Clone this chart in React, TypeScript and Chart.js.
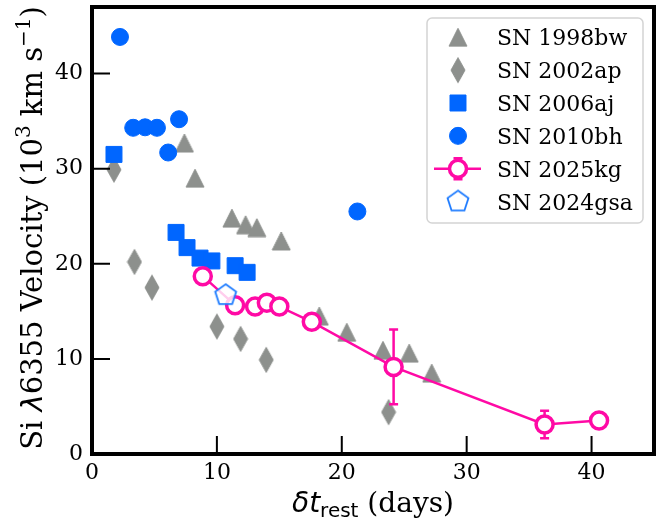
import React, { useEffect, useRef } from "react";
import { Chart, registerables } from "chart.js";
Chart.register(...registerables);

const SERIF = "'DejaVu Serif', serif";
const SANS = "'DejaVu Sans', sans-serif";

const GRAY = "#8d908d";
const BLUE = "#0066ff";
const MAGENTA = "#ff0aa5";
const PENT = "#1f7cff";

// ---- data ----
const sn1998bwX = [7.4, 8.25, 11.2, 12.3, 13.2, 15.15, 18.2, 20.4, 23.3, 25.4, 27.2];
const sn1998bwY = [32.7, 29.0, 24.8, 24.1, 23.8, 22.4, 14.5, 12.8, 10.9, 10.6, 8.5];

const sn2002apX = [1.76, 3.4, 4.8, 10.0, 11.9, 13.95, 23.75];
const sn2002apY = [29.9, 20.2, 17.5, 13.4, 12.1, 9.9, 4.4];

const sn2006ajX = [1.76, 6.73, 7.61, 8.65, 9.6, 11.46, 12.42];
const sn2006ajY = [31.5, 23.3, 21.7, 20.6, 20.3, 19.8, 19.1];

const sn2010bhX = [2.24, 3.3, 4.25, 5.2, 6.1, 6.97, 21.25];
const sn2010bhY = [43.85, 34.3, 34.35, 34.3, 31.7, 35.2, 25.5];

const sn2025kgX = [8.87, 11.46, 13.06, 14.0, 15.0, 17.6, 24.15, 36.24, 40.6];
const sn2025kgY = [18.7, 15.65, 15.5, 15.9, 15.5, 13.9, 9.16, 3.1, 3.52];
const sn2025kgErr = [0, 0, 0, 0, 0, 0, 3.92, 1.45, 0];

const sn2024gsaX = [10.7];
const sn2024gsaY = [16.7];

const xTicks = [0, 10, 20, 30, 40];
const yTicks = [0, 10, 20, 30, 40];
const xMin = 0, xMax = 45;
const yMin = 0, yMax = 47;

const xy = (xs: number[], ys: number[]) => xs.map((x, i) => ({ x, y: ys[i] }));

function makeCanvas(w: number, h: number) {
  const c = document.createElement("canvas");
  c.width = w;
  c.height = h;
  return c;
}

function triangleImg() {
  const c = makeCanvas(20, 20);
  const g = c.getContext("2d")!;
  g.beginPath();
  g.moveTo(10, 1);
  g.lineTo(19, 19);
  g.lineTo(1, 19);
  g.closePath();
  g.fillStyle = GRAY;
  g.fill();
  g.strokeStyle = GRAY;
  g.lineWidth = 1;
  g.stroke();
  return c;
}

function diamondImg() {
  const c = makeCanvas(16, 28);
  const g = c.getContext("2d")!;
  g.beginPath();
  g.moveTo(8, 1.5);
  g.lineTo(15, 14);
  g.lineTo(8, 26.5);
  g.lineTo(1, 14);
  g.closePath();
  g.fillStyle = GRAY;
  g.fill();
  g.strokeStyle = GRAY;
  g.lineWidth = 1;
  g.stroke();
  return c;
}

function pentagonImg() {
  const c = makeCanvas(28, 28);
  const g = c.getContext("2d")!;
  const R = 11;
  g.beginPath();
  for (let k = 0; k < 5; k++) {
    const a = -Math.PI / 2 + (k * 2 * Math.PI) / 5;
    const px = 14 + R * Math.cos(a);
    const py = 14 + R * Math.sin(a);
    if (k === 0) g.moveTo(px, py);
    else g.lineTo(px, py);
  }
  g.closePath();
  g.fillStyle = "rgba(255,255,255,0.8)";
  g.fill();
  g.strokeStyle = PENT;
  g.lineWidth = 1.8;
  g.lineJoin = "miter";
  g.stroke();
  return c;
}

type Seg = { t: string; f: string; dy?: number };

function segWidth(ctx: CanvasRenderingContext2D, segs: Seg[]) {
  let w = 0;
  for (const s of segs) {
    ctx.font = s.f;
    w += ctx.measureText(s.t).width;
  }
  return w;
}

function drawSegs(ctx: CanvasRenderingContext2D, segs: Seg[], cx: number, baseline: number) {
  const total = segWidth(ctx, segs);
  let x = cx - total / 2;
  ctx.textAlign = "left";
  ctx.textBaseline = "alphabetic";
  for (const s of segs) {
    ctx.font = s.f;
    ctx.fillText(s.t, x, baseline + (s.dy || 0));
    x += ctx.measureText(s.t).width;
  }
}

function drawMarker(ctx: CanvasRenderingContext2D, ds: any, x: number, y: number) {
  const st = ds.pointStyle;
  if (st instanceof HTMLCanvasElement) {
    ctx.drawImage(st, x - st.width / 2, y - st.height / 2);
    return;
  }
  const r = ds.pointRadius;
  ctx.beginPath();
  if (st === "rect") {
    const s = r * Math.SQRT1_2;
    ctx.rect(x - s, y - s, 2 * s, 2 * s);
  } else {
    ctx.arc(x, y, r, 0, Math.PI * 2);
  }
  ctx.fillStyle = ds.pointBackgroundColor;
  ctx.fill();
  ctx.lineWidth = ds.pointBorderWidth;
  ctx.strokeStyle = ds.pointBorderColor;
  ctx.stroke();
}

function drawErr(ctx: CanvasRenderingContext2D, x: number, y1: number, y2: number, color: string) {
  ctx.save();
  ctx.strokeStyle = color;
  ctx.lineWidth = 2.5;
  ctx.beginPath();
  ctx.moveTo(x, y1);
  ctx.lineTo(x, y2);
  ctx.moveTo(x - 4.5, y1);
  ctx.lineTo(x + 4.5, y1);
  ctx.moveTo(x - 4.5, y2);
  ctx.lineTo(x + 4.5, y2);
  ctx.stroke();
  ctx.restore();
}

const errorBarPlugin = {
  id: "errorBars",
  beforeDatasetDraw(chart: any, args: any) {
    const ds = chart.data.datasets[args.index];
    if (!ds.yErr) return;
    const ctx = chart.ctx;
    const ys = chart.scales.y;
    const meta = args.meta;
    ds.data.forEach((p: any, i: number) => {
      const e = ds.yErr[i];
      if (!e) return;
      const px = meta.data[i].x;
      drawErr(ctx, px, ys.getPixelForValue(p.y + e), ys.getPixelForValue(p.y - e), ds.borderColor);
    });
  },
};

const framePlugin = {
  id: "frame",
  afterDatasetsDraw(chart: any) {
    const ctx = chart.ctx;
    const { left, right, top, bottom } = chart.chartArea;
    ctx.save();
    ctx.strokeStyle = "#000";
    ctx.lineWidth = 2;
    ctx.beginPath();
    for (const v of xTicks) {
      const px = chart.scales.x.getPixelForValue(v);
      ctx.moveTo(px, bottom);
      ctx.lineTo(px, bottom - 18);
    }
    for (const v of yTicks) {
      const py = chart.scales.y.getPixelForValue(v);
      ctx.moveTo(left, py);
      ctx.lineTo(left + 18, py);
    }
    ctx.stroke();
    ctx.lineWidth = 4;
    ctx.strokeRect(left, top, right - left, bottom - top);
    ctx.restore();
  },
};

const legendTitlePlugin = {
  id: "legendTitles",
  afterDraw(chart: any) {
    const ctx = chart.ctx;
    const { left, right, top, bottom } = chart.chartArea;
    ctx.save();
    // legend box
    const bx = 427, by = 18, bw = 216, bh = 205, rr = 5;
    ctx.beginPath();
    ctx.moveTo(bx + rr, by);
    ctx.arcTo(bx + bw, by, bx + bw, by + bh, rr);
    ctx.arcTo(bx + bw, by + bh, bx, by + bh, rr);
    ctx.arcTo(bx, by + bh, bx, by, rr);
    ctx.arcTo(bx, by, bx + bw, by, rr);
    ctx.closePath();
    ctx.fillStyle = "rgba(255,255,255,0.8)";
    ctx.fill();
    ctx.strokeStyle = "#d4d4d4";
    ctx.lineWidth = 1.5;
    ctx.stroke();

    const mx = 458;
    chart.data.datasets.forEach((ds: any, i: number) => {
      const y = 37.3 + i * 32.85;
      if (ds.showLine) {
        ctx.strokeStyle = ds.borderColor;
        ctx.lineWidth = ds.borderWidth;
        ctx.beginPath();
        ctx.moveTo(mx - 24, y);
        ctx.lineTo(mx + 23, y);
        ctx.stroke();
      }
      if (ds.yErr) drawErr(ctx, mx, y - 10.5, y + 10.5, ds.borderColor);
      drawMarker(ctx, ds, mx, y);
      ctx.fillStyle = "#000";
      ctx.font = `22px ${SERIF}`;
      ctx.textAlign = "left";
      ctx.textBaseline = "alphabetic";
      ctx.fillText(ds.label, 497, y + 8);
    });

    // axis titles
    const FX = 28;
    ctx.fillStyle = "#000";
    const xSegs: Seg[] = [
      { t: "δt", f: `italic ${FX}px ${SANS}` },
      { t: "rest", f: `${Math.round(FX * 0.7)}px ${SANS}`, dy: 5 },
      { t: " (days)", f: `${FX}px ${SERIF}` },
    ];
    drawSegs(ctx, xSegs, (left + right) / 2, 512);

    const FY = 29;
    const ySegs: Seg[] = [
      { t: "Si ", f: `${FY}px ${SERIF}` },
      { t: "λ", f: `italic ${FY}px ${SANS}` },
      { t: "6355 Velocity (10", f: `${FY}px ${SERIF}` },
      { t: "3", f: `${Math.round(FY * 0.7)}px ${SERIF}`, dy: -12 },
      { t: " km s", f: `${FY}px ${SERIF}` },
      { t: "−1", f: `${Math.round(FY * 0.7)}px ${SERIF}`, dy: -12 },
      { t: ")", f: `${FY}px ${SERIF}` },
    ];
    ctx.save();
    ctx.translate(42, 228);
    ctx.rotate(-Math.PI / 2);
    drawSegs(ctx, ySegs, 0, 0);
    ctx.restore();
    ctx.restore();
  },
};

export default function App() {
  const ref = useRef<HTMLCanvasElement>(null);
  useEffect(() => {
    if (!ref.current) return;
    const tri = triangleImg();
    const dia = diamondImg();
    const pen = pentagonImg();
    const tickFont = { family: SERIF, size: 22 };
    const chart = new Chart(ref.current, {
      type: "scatter",
      data: {
        datasets: [
          {
            label: "SN 1998bw",
            data: xy(sn1998bwX, sn1998bwY),
            pointStyle: tri,
            pointRadius: 10,
            order: 5,
          },
          {
            label: "SN 2002ap",
            data: xy(sn2002apX, sn2002apY),
            pointStyle: dia,
            pointRadius: 10,
            order: 4,
          },
          {
            label: "SN 2006aj",
            data: xy(sn2006ajX, sn2006ajY),
            pointStyle: "rect",
            pointRadius: 11.3,
            pointBackgroundColor: BLUE,
            pointBorderColor: BLUE,
            pointBorderWidth: 1,
            order: 3,
          },
          {
            label: "SN 2010bh",
            data: xy(sn2010bhX, sn2010bhY),
            pointStyle: "circle",
            pointRadius: 8.5,
            pointBackgroundColor: BLUE,
            pointBorderColor: BLUE,
            pointBorderWidth: 1,
            order: 2,
          },
          {
            label: "SN 2025kg",
            data: xy(sn2025kgX, sn2025kgY),
            yErr: sn2025kgErr,
            showLine: true,
            borderColor: MAGENTA,
            borderWidth: 2.5,
            pointStyle: "circle",
            pointRadius: 8.5,
            pointBackgroundColor: "#ffffff",
            pointBorderColor: MAGENTA,
            pointBorderWidth: 3.5,
            order: 1,
          },
          {
            label: "SN 2024gsa",
            data: xy(sn2024gsaX, sn2024gsaY),
            pointStyle: pen,
            pointRadius: 10,
            order: 0,
          },
        ] as any,
      },
      options: {
        animation: false,
        responsive: false,
        devicePixelRatio: 1,
        events: [],
        layout: { autoPadding: false, padding: { left: 0, right: 8, top: 7, bottom: 0 } },
        plugins: { legend: { display: false }, tooltip: { enabled: false } },
        scales: {
          x: {
            type: "linear",
            min: xMin,
            max: xMax,
            grid: { display: false, drawTicks: false },
            border: { display: false },
            ticks: { font: tickFont, color: "#000", padding: 6 },
            afterBuildTicks: (s: any) => {
              s.ticks = xTicks.map((v) => ({ value: v }));
            },
            afterFit: (s: any) => {
              s.height = 66;
              s.paddingLeft = 0;
              s.paddingRight = 0;
            },
          },
          y: {
            type: "linear",
            min: yMin,
            max: yMax,
            grid: { display: false, drawTicks: false },
            border: { display: false },
            ticks: { font: tickFont, color: "#000", padding: 9 },
            afterBuildTicks: (s: any) => {
              s.ticks = yTicks.map((v) => ({ value: v }));
            },
            afterFit: (s: any) => {
              s.width = 92;
              s.paddingTop = 0;
              s.paddingBottom = 0;
            },
          },
        },
      } as any,
      plugins: [errorBarPlugin, framePlugin, legendTitlePlugin],
    });
    return () => chart.destroy();
  }, []);
  return (
    <div style={{ position: "absolute", left: 0, top: 0, width: 662, height: 520 }}>
      <canvas ref={ref} width={662} height={520} style={{ display: "block", width: 662, height: 520 }} />
    </div>
  );
}
